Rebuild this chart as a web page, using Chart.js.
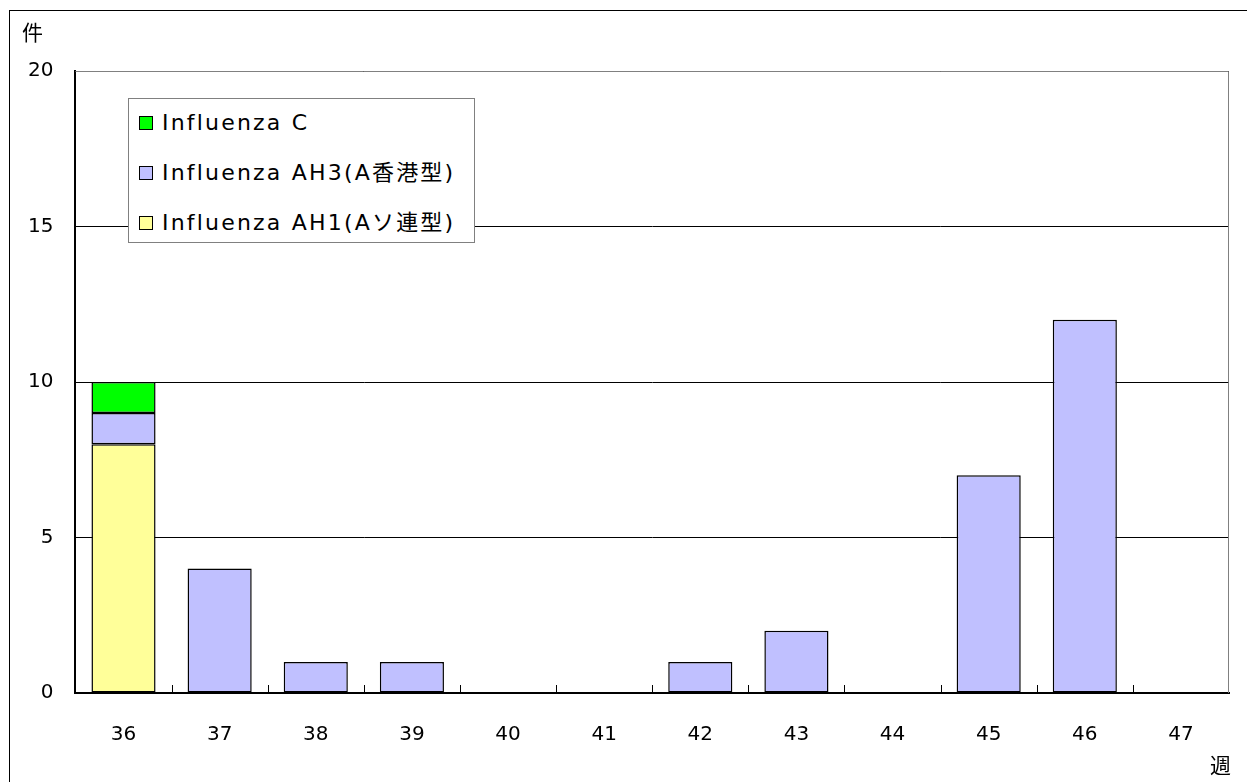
<!DOCTYPE html>
<html lang="ja">
<head>
  <meta charset="UTF-8">
  <title>インフルエンザ 週別検出数</title>
  <script src="https://cdn.jsdelivr.net/npm/chart.js"></script>
  <style>
    body {
      margin: 0;
      background: #fff;
      font-family: "DejaVu Sans", "Noto Sans CJK JP", sans-serif;
    }
    .wrap {
      position: relative;
      width: 1247px;
      height: 782px;
      overflow: hidden;
    }
    .frame {
      position: absolute;
      left: 9px;
      top: 10px;
      width: 1300px;
      height: 900px;
      border: 1px solid #000;
    }
    canvas {
      position: absolute;
      left: 0;
      top: 0;
    }
    #legend {
      position: absolute;
      left: 128px;
      top: 98px;
      width: 345px;
      height: 143px;
      background: #fff;
      border: 1px solid #808080;
    }
    .item {
      position: absolute;
      left: 10px;
      display: flex;
      align-items: center;
      font-size: 22px;
      letter-spacing: 2.2px;
      line-height: 24px;
      color: #000;
      white-space: nowrap;
    }
    .sw {
      width: 12px;
      height: 12px;
      border: 1px solid #000;
      margin-right: 9px;
    }
  </style>
</head>
<body>
  <div class="wrap">
    <div class="frame"></div>
    <canvas id="chart" width="1247" height="782"></canvas>
    <div id="legend"></div>
  </div>

  <script>
    const weeks = ['36', '37', '38', '39', '40', '41', '42', '43', '44', '45', '46', '47'];
    const ah1 = [8, 0, 0, 0, 0, 0, 0, 0, 0, 0, 0, 0];
    const ah3 = [1, 4, 1, 1, 0, 0, 1, 2, 0, 7, 12, 0];
    const fluC = [1, 0, 0, 0, 0, 0, 0, 0, 0, 0, 0, 0];
    const yTicks = [0, 5, 10, 15, 20];

    const font = { family: '"DejaVu Sans", "Noto Sans CJK JP", sans-serif', size: 20 };

    // 枠線・目盛り・「件」「週」
    const extras = {
      id: 'extras',
      afterDraw(chart) {
        const { ctx, chartArea: a, scales } = chart;
        const x = scales.x;
        ctx.save();
        ctx.strokeStyle = '#808080';
        ctx.lineWidth = 1;
        ctx.beginPath();
        ctx.moveTo(a.left, a.top + 0.5);
        ctx.lineTo(a.right - 0.5, a.top + 0.5);
        ctx.lineTo(a.right - 0.5, a.bottom);
        ctx.stroke();
        ctx.strokeStyle = '#000';
        ctx.beginPath();
        for (let i = 0; i < weeks.length - 1; i++) {
          const px = Math.round((x.getPixelForTick(i) + x.getPixelForTick(i + 1)) / 2) + 0.5;
          ctx.moveTo(px, a.bottom);
          ctx.lineTo(px, a.bottom - 8);
        }
        ctx.stroke();
        ctx.fillStyle = '#000';
        ctx.font = '21px "Noto Sans CJK JP", sans-serif';
        ctx.textBaseline = 'middle';
        ctx.fillText('件', 22, 32);
        ctx.fillText('週', 1210, 765);
        ctx.restore();
      }
    };

    const chart = new Chart(document.getElementById('chart'), {
      type: 'bar',
      data: {
        labels: weeks,
        datasets: [
          { label: 'Influenza AH1(Aソ連型)', data: ah1, backgroundColor: '#FFFF99' },
          { label: 'Influenza AH3(A香港型)', data: ah3, backgroundColor: '#C0C0FF' },
          { label: 'Influenza C', data: fluC, backgroundColor: '#00FF00' }
        ].map(d => Object.assign(d, {
          borderColor: '#000',
          borderWidth: 1.5,
          borderSkipped: false,
          categoryPercentage: 1,
          barPercentage: 0.667
        }))
      },
      options: {
        responsive: false,
        animation: false,
        layout: { padding: { left: 6, right: 18, top: 71, bottom: 5 } },
        plugins: {
          legend: { display: false },
          tooltip: { enabled: false }
        },
        scales: {
          x: {
            stacked: true,
            grid: { display: false, drawTicks: false },
            border: { display: true, color: '#000', width: 2 },
            ticks: { color: '#000', font: font, padding: 30 }
          },
          y: {
            stacked: true,
            min: 0,
            max: 20,
            afterBuildTicks: axis => { axis.ticks = yTicks.map(v => ({ value: v })); },
            grid: { color: '#000', drawTicks: false },
            border: { display: true, color: '#000', width: 2 },
            ticks: { color: '#000', font: font, padding: 22 }
          }
        }
      },
      plugins: [extras]
    });

    // 凡例(表示順は上から C, AH3, AH1)
    const legend = document.getElementById('legend');
    chart.data.datasets.slice().reverse().forEach((ds, i) => {
      const item = document.createElement('div');
      item.className = 'item';
      item.style.top = (12 + i * 50) + 'px';
      item.innerHTML = `<span class="sw" style="background:${ds.backgroundColor}"></span><span>${ds.label}</span>`;
      legend.appendChild(item);
    });
  </script>
</body>
</html>
